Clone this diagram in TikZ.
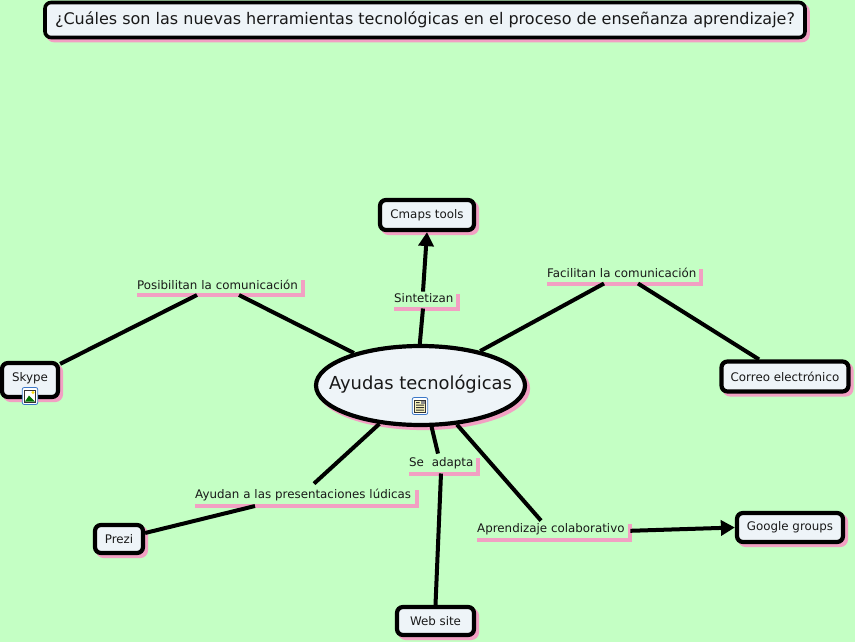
\documentclass[tikz,border=0pt]{standalone}
\usepackage{fontspec}
\setmainfont{DejaVu Sans}
\usetikzlibrary{shadows,arrows.meta,shapes.geometric}
\definecolor{mapbg}{RGB}{196,255,196}
\definecolor{boxfill}{RGB}{238,244,248}
\definecolor{phrasepink}{RGB}{242,160,195}
\definecolor{iconblue}{RGB}{60,120,200}
\definecolor{iconpage}{RGB}{250,245,190}
\tikzset{
	x=1pt, y=-1pt,
	concept/.style={draw=black, line width=4.2pt, fill=boxfill, rounded corners=6pt, font=\fontsize{11.85}{14}\selectfont,
		text=black!90, inner sep=0pt, drop shadow={shadow xshift=3pt, shadow yshift=-3pt, draw=phrasepink, fill=phrasepink, opacity=1}},
	phrase/.style={anchor=south west, inner sep=0pt, text height=9pt, text depth=5.5pt, align=left,
		font=\fontsize{11.85}{14}\selectfont, text=black!90,
		append after command={\pgfextra{\draw[phrasepink, line width=4pt] (\tikzlastnode.south west) -| (\tikzlastnode.north east);}}},
	link/.style={draw=black, line width=4pt},
	linkarrow/.style={link, -{Triangle[length=14pt, width=15pt]}},
	iconbox/.style={draw=iconblue, line width=0.8pt, fill=white, rounded corners=2pt, minimum width=15.5pt, minimum height=17pt, inner sep=0pt},
}
\begin{document}
\begin{tikzpicture}
	\fill[mapbg] (0,0) rectangle (855,642);
	\useasboundingbox (0,0) rectangle (855,642);
	% concepts
	\node[concept, line width=3.6pt, minimum width=760pt, minimum height=35pt, font=\fontsize{16}{18}\selectfont] (question) at (425,20) {¿Cuáles son las nuevas herramientas tecnológicas en el proceso de enseñanza aprendizaje?};
	\node[concept, ellipse, rounded corners=0pt, minimum width=209pt, minimum height=79pt, font=\fontsize{17.9}{22}\selectfont] (ayudas) at (420.5,385.5) {\raisebox{-3.8pt}[0pt][0pt]{\makebox[0pt]{Ayudas tecnológicas}}};
	\node[concept, minimum width=94pt, minimum height=30pt] (cmaps) at (427,215) {Cmaps tools};
	\node[concept, minimum width=56pt, minimum height=34pt, text height=9pt, text depth=7pt] (skype) at (30,380) {Skype};
	\node[concept, minimum width=127pt, minimum height=30pt] (correo) at (785,376.5) {Correo electrónico};
	\node[concept, minimum width=48pt, minimum height=28pt] (prezi) at (119,539) {Prezi};
	\node[concept, minimum width=77pt, minimum height=28pt] (website) at (435.5,621) {Web site};
	\node[concept, minimum width=106pt, minimum height=29pt] (google) at (790,527.5) {Google groups};
	% linking phrases
	\node[phrase, text width=166pt] (posibilitan) at (137,295) {Posibilitan la comunicación};
	\node[phrase, text width=64pt] (sintetizan) at (394,308.5) {Sintetizan};
	\node[phrase, text width=154pt] (facilitan) at (547,283.5) {Facilitan la comunicación};
	\node[phrase, text width=69pt, text depth=6.5pt] (adapta) at (409,473.5) {Se\ \ adapta};
	\node[phrase, text width=222pt, text depth=7pt] (presentaciones) at (195,506) {Ayudan a las presentaciones lúdicas};
	\node[phrase, text width=153pt, text depth=7pt] (colaborativo) at (477,540) {Aprendizaje colaborativo};
	% connectors
	\draw[link] (ayudas.154) -- ([xshift=102pt]posibilitan.south west);
	\draw[link] ([xshift=60pt]posibilitan.south west) -- ([yshift=-3pt]skype.north east);
	\draw[link] (ayudas.91) -- ([xshift=29pt]sintetizan.south west);
	\draw[linkarrow] ([xshift=29pt,yshift=2pt]sintetizan.north west) -- (cmaps.south);
	\draw[link] (ayudas.30) -- ([xshift=57pt]facilitan.south west);
	\draw[link] ([xshift=91pt]facilitan.south west) -- ([xshift=-26pt]correo.north);
	\draw[link] (ayudas.-75) -- ([xshift=29pt,yshift=4pt]adapta.north west);
	\draw[link] ([xshift=32pt]adapta.south west) -- (website.north);
	\draw[link] (ayudas.223) -- ([xshift=119pt,yshift=6pt]presentaciones.north west);
	\draw[link] ([xshift=60pt]presentaciones.south west) -- ([yshift=6pt]prezi.east);
	\draw[link] (ayudas.-47) -- ([xshift=64pt,yshift=3pt]colaborativo.north west);
	\draw[linkarrow] ([yshift=1pt]colaborativo.east) -- (google.west);
	% resource icons
	\node[iconbox] (docicon) at (420,406) {};
	\fill[black!80] (414,399.5) rectangle (426,412.5);
	\fill[iconpage] (415,400.5) rectangle (425,411.5);
	\fill[black!80] (416,402) rectangle (419.5,403) (416,404.5) rectangle (424,405.5) (416,407) rectangle (424,408) (416,409.5) rectangle (424,410.5);
	\fill[black!45] (420.5,401) rectangle (424.5,404);
	\node[iconbox] (imgicon) at (30,396) {};
	\fill[black!80] (24,389.5) rectangle (36,402.5);
	\fill[white] (25,390.5) rectangle (35,401.5);
	\fill[green!45!black] (25,401.5) -- (29,395.5) -- (35,401.5) -- cycle;
	\fill[yellow!80!orange] (33,392.5) circle (1.6);
\end{tikzpicture}
\end{document}
